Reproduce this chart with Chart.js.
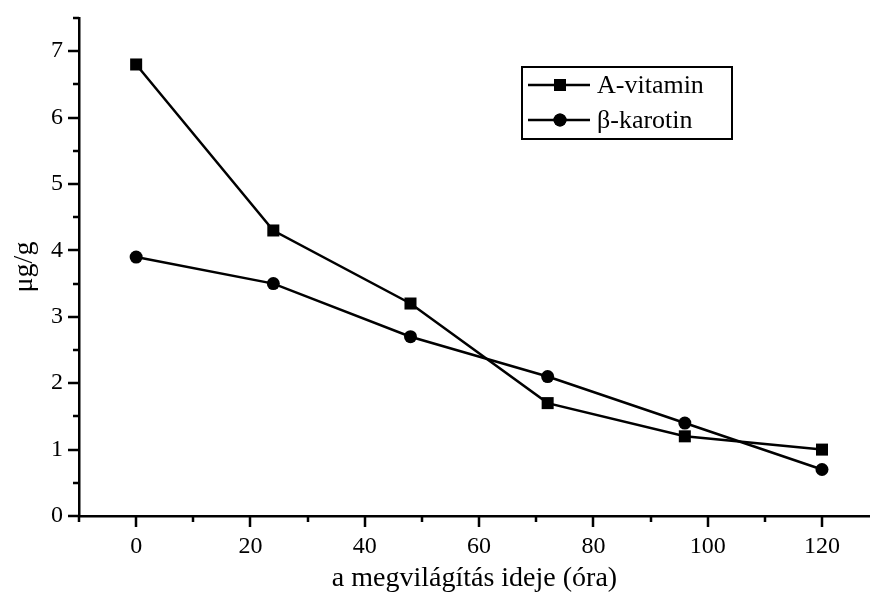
<!DOCTYPE html>
<html>
<head>
<meta charset="utf-8">
<script src="https://cdn.jsdelivr.net/npm/chart.js@4/dist/chart.umd.min.js"></script>
<style>
  html, body { margin: 0; padding: 0; background: #fff; }
  #wrap { width: 870px; height: 599px; }
</style>
</head>
<body>
<div id="wrap"><canvas id="chart" width="870" height="599"></canvas></div>
<script>
// data
const hours = [0, 24, 48, 72, 96, 120];
const vitaminA = [6.8, 4.3, 3.2, 1.7, 1.2, 1.0];
const betaCarotene = [3.9, 3.5, 2.7, 2.1, 1.4, 0.7];
const xTickValues = [0, 20, 40, 60, 80, 100, 120];
const yTickValues = [0, 1, 2, 3, 4, 5, 6, 7];
const seriesNames = ["A-vitamin", "\u03b2-karotin"];

const serif = "'Liberation Serif', 'DejaVu Serif', serif";

const toPoints = function (xs, ys) {
  return xs.map((x, i) => ({ x: x, y: ys[i] }));
};

// outward ticks: long for labelled values, short half way between
const tickPlugin = {
  id: "outerTicks",
  afterDraw(chart) {
    const ctx = chart.ctx;
    const xs = chart.scales.x;
    const ys = chart.scales.y;
    const area = chart.chartArea;
    ctx.save();
    ctx.strokeStyle = "#000";
    ctx.lineWidth = 2.5;
    ctx.beginPath();
    const xStep = xTickValues[1] - xTickValues[0];
    for (let v = xTickValues[0] - xStep; v <= xs.max; v += xStep / 2) {
      if (v < xs.min) continue;
      const major = xTickValues.includes(v);
      const px = Math.round(xs.getPixelForValue(v));
      ctx.moveTo(px, area.bottom);
      ctx.lineTo(px, area.bottom + (major ? 11 : 6));
    }
    const yStep = yTickValues[1] - yTickValues[0];
    for (let v = yTickValues[0]; v <= ys.max; v += yStep / 2) {
      const major = yTickValues.includes(v);
      const py = Math.round(ys.getPixelForValue(v));
      ctx.moveTo(area.left, py);
      ctx.lineTo(area.left - (major ? 11 : 6), py);
    }
    ctx.stroke();
    ctx.restore();
  }
};

// boxed legend inside the plot, top right
const boxLegend = {
  id: "boxLegend",
  afterDraw(chart) {
    const ctx = chart.ctx;
    const area = chart.chartArea;
    const left = area.left + 443;
    const top = area.top + 49;
    const w = 210, h = 72;
    ctx.save();
    ctx.strokeStyle = "#000";
    ctx.lineWidth = 2;
    ctx.strokeRect(left, top, w, h);
    ctx.font = "26px " + serif;
    ctx.textBaseline = "middle";
    ctx.fillStyle = "#000";
    chart.data.datasets.forEach((ds, i) => {
      const y = top + 18 + i * 35;
      ctx.beginPath();
      ctx.moveTo(left + 6, y);
      ctx.lineTo(left + 68, y);
      ctx.lineWidth = 2.5;
      ctx.stroke();
      Chart.helpers.drawPoint(ctx, {
        pointStyle: ds.pointStyle,
        radius: ds.pointRadius,
        borderWidth: 0
      }, left + 38, y);
      ctx.fill();
      ctx.fillText(ds.label, left + 75, y + 1);
    });
    ctx.restore();
  }
};

const chart = new Chart(document.getElementById("chart"), {
  type: "line",
  data: {
    datasets: [
      {
        label: seriesNames[0],
        data: toPoints(hours, vitaminA),
        borderColor: "#000",
        backgroundColor: "#000",
        borderWidth: 2.5,
        pointStyle: "rect",
        pointRadius: 8.5,
        pointBorderWidth: 0,
        tension: 0
      },
      {
        label: seriesNames[1],
        data: toPoints(hours, betaCarotene),
        borderColor: "#000",
        backgroundColor: "#000",
        borderWidth: 2.5,
        pointStyle: "circle",
        pointRadius: 6.5,
        pointBorderWidth: 0,
        tension: 0
      }
    ]
  },
  options: {
    responsive: false,
    animation: false,
    layout: { autoPadding: false, padding: { top: 18, right: 0, left: 0, bottom: 0 } },
    plugins: {
      legend: { display: false },
      tooltip: { enabled: false }
    },
    scales: {
      x: {
        type: "linear",
        min: -10,
        max: 128.4,
        afterBuildTicks: (scale) => { scale.ticks = xTickValues.map(v => ({ value: v })); },
        afterFit: (scale) => {
          scale.height = 83;
          scale.paddingRight = 0;
        },
        grid: { display: false, drawTicks: false },
        border: { display: true, color: "#000", width: 2.5 },
        ticks: {
          color: "#000",
          font: { family: serif, size: 24 },
          padding: 16,
          maxRotation: 0,
          autoSkip: false
        },
        title: {
          display: true,
          text: "a megvilágítás ideje (óra)",
          color: "#000",
          font: { family: serif, size: 28 },
          padding: { top: 0, bottom: 4 }
        }
      },
      y: {
        type: "linear",
        min: 0,
        max: 7.5,
        afterBuildTicks: (scale) => { scale.ticks = yTickValues.map(v => ({ value: v })); },
        afterFit: (scale) => {
          scale.width = 79;
          scale.paddingTop = 0;
        },
        grid: { display: false, drawTicks: false },
        border: { display: true, color: "#000", width: 2.5 },
        ticks: {
          color: "#000",
          font: { family: serif, size: 24 },
          padding: 16
        },
        title: {
          display: true,
          text: "μg/g",
          color: "#000",
          font: { family: serif, size: 28 },
          padding: { top: 8, bottom: 4 }
        }
      }
    }
  },
  plugins: [tickPlugin, boxLegend]
});
</script>
</body>
</html>
